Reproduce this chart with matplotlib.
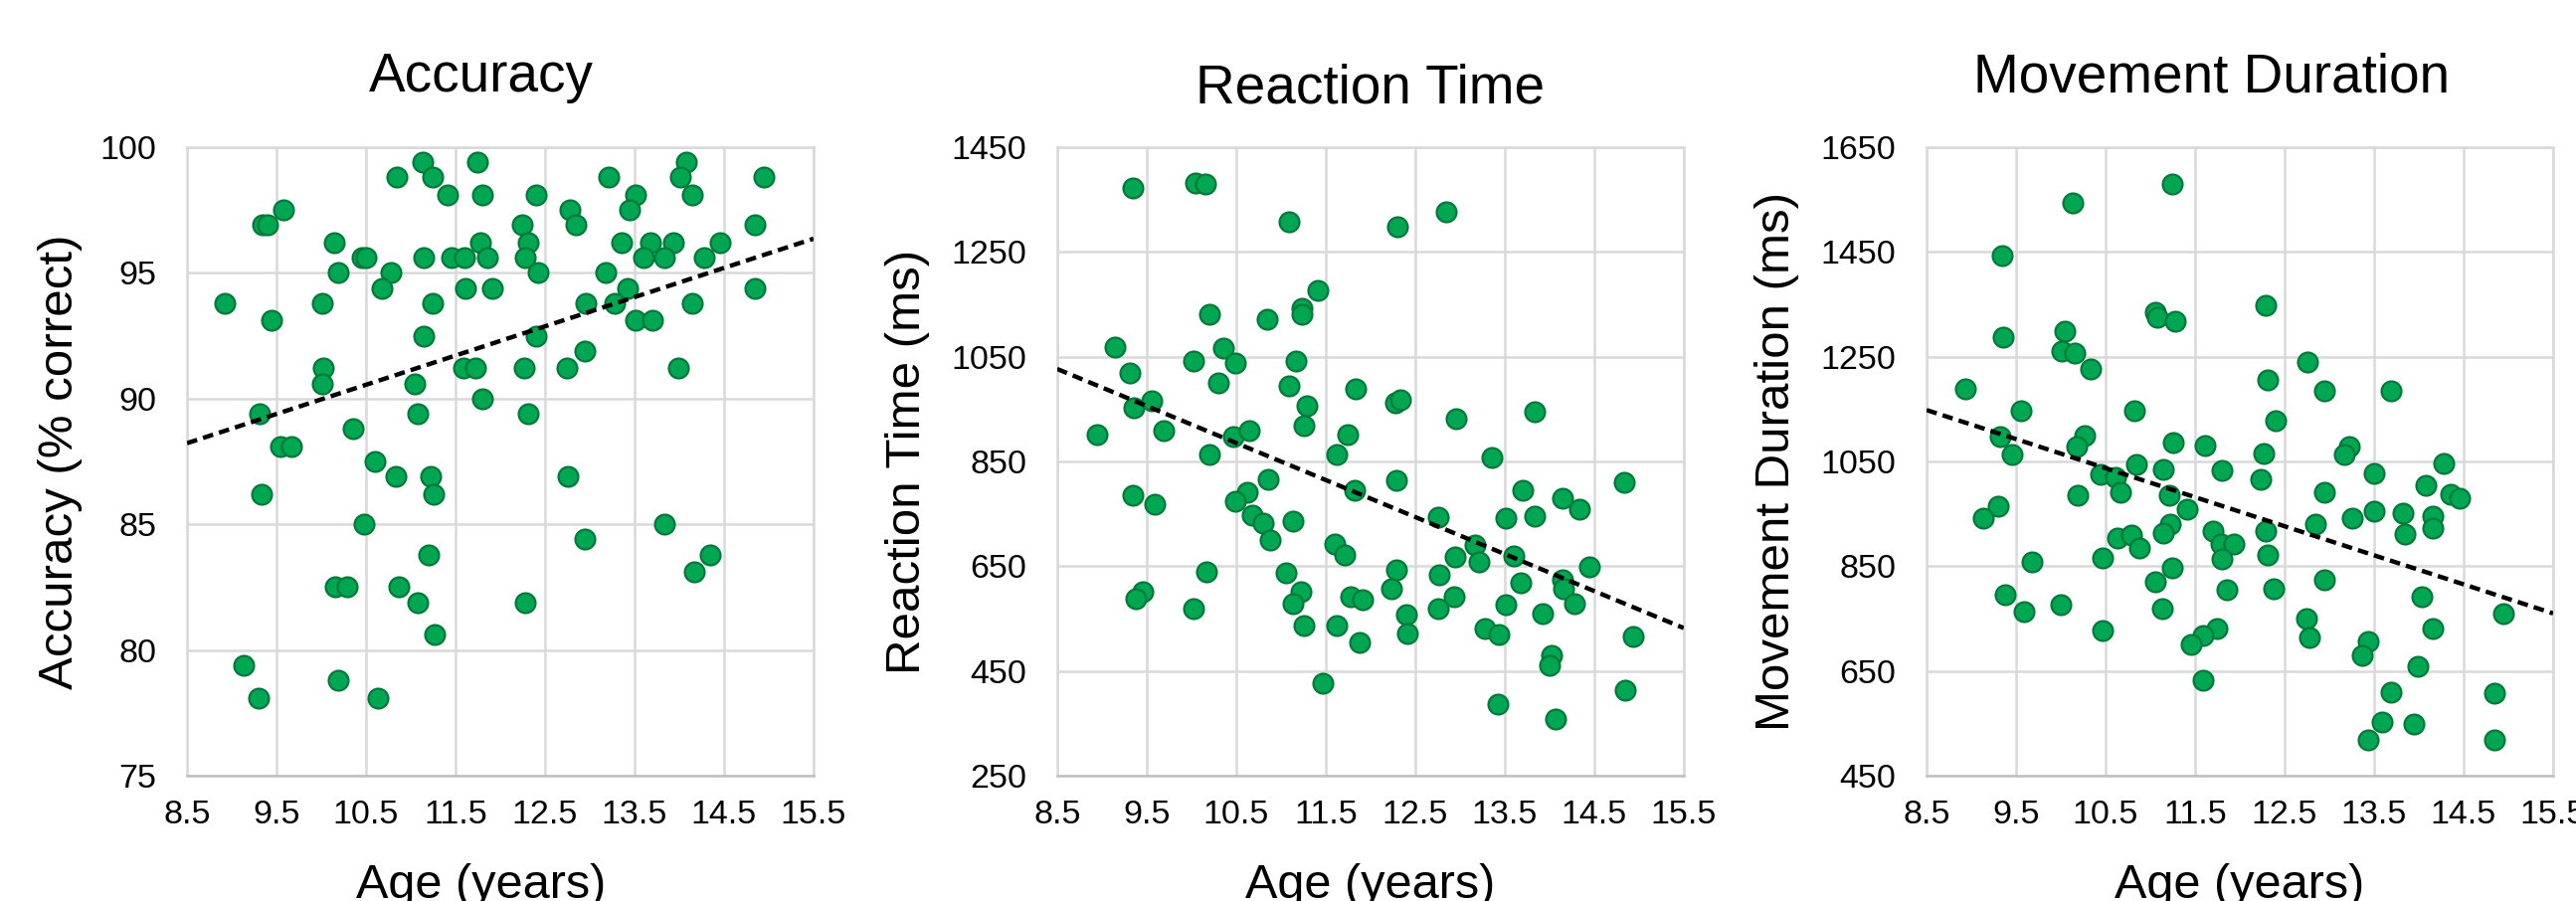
import numpy as np
import matplotlib.pyplot as plt

plt.rcParams['font.family'] = ['Liberation Sans', 'DejaVu Sans']

# ---- data ----
age_acc = [11.13, 11.75, 10.85, 11.24, 11.41, 11.80, 9.58, 9.34, 9.40, 10.14,
           11.78, 10.45, 10.50, 11.15, 11.46, 11.60, 11.86, 10.19, 10.78, 10.68,
           11.61, 11.91, 8.92, 10.01, 11.24, 9.44, 11.15, 10.02, 11.59, 11.72,
           10.01, 11.04, 11.80, 9.31, 11.08, 10.35, 9.54, 9.67, 10.60, 10.83,
           11.22, 9.33, 11.26, 10.48, 11.20, 10.16, 10.29, 10.87, 11.08, 11.27,
           9.13, 10.19, 9.30, 10.63,
           14.08, 14.01, 13.21, 14.95, 12.40, 13.51, 14.15, 12.78, 13.44, 12.85,
           12.25, 14.85, 12.31, 13.36, 13.68, 13.93, 14.46, 12.28, 13.60, 13.83,
           14.28, 12.42, 13.18, 13.42, 14.85, 12.96, 13.28, 14.15, 13.51, 13.70,
           12.40, 12.95, 12.27, 12.74, 13.99, 12.31, 12.76, 12.95, 13.83, 14.34,
           14.17, 12.28]
acc = [99.4, 99.4, 98.8, 98.8, 98.1, 98.1, 97.5, 96.9, 96.9, 96.2,
       96.2, 95.6, 95.6, 95.6, 95.6, 95.6, 95.6, 95.0, 95.0, 94.4,
       94.4, 94.4, 93.8, 93.8, 93.8, 93.1, 92.5, 91.2, 91.2, 91.2,
       90.6, 90.6, 90.0, 89.4, 89.4, 88.8, 88.1, 88.1, 87.5, 86.9,
       86.9, 86.2, 86.2, 85.0, 83.8, 82.5, 82.5, 82.5, 81.9, 80.6,
       79.4, 78.8, 78.1, 78.1,
       99.4, 98.8, 98.8, 98.8, 98.1, 98.1, 98.1, 97.5, 97.5, 96.9,
       96.9, 96.9, 96.2, 96.2, 96.2, 96.2, 96.2, 95.6, 95.6, 95.6,
       95.6, 95.0, 95.0, 94.4, 94.4, 93.8, 93.8, 93.8, 93.1, 93.1,
       92.5, 91.9, 91.2, 91.2, 91.2, 89.4, 86.9, 84.4, 85.0, 83.8,
       83.1, 81.9]

age_rt = [9.34, 10.04, 10.16, 11.09, 11.41, 10.20, 10.85, 11.24, 11.24, 9.14,
          10.36, 10.02, 10.49, 11.17, 9.31, 10.30, 11.09, 11.83, 9.56, 9.36,
          11.29, 11.26, 8.95, 9.69, 10.47, 10.64, 11.75, 10.20, 11.62, 11.82,
          10.86, 9.34, 9.59, 10.62, 10.49, 10.68, 10.80, 10.88, 11.14, 11.60,
          11.71, 10.17, 11.06, 9.46, 9.38, 11.22, 11.14, 10.02, 11.78, 11.91,
          11.26, 11.62, 11.88, 11.47,
          12.30, 12.85, 12.28, 12.33, 12.96, 13.83, 13.36, 12.29, 14.83, 13.70,
          14.15, 14.34, 12.76, 13.51, 13.83, 13.17, 12.95, 13.21, 13.60, 12.29,
          12.77, 14.45, 12.24, 13.68, 14.15, 14.16, 12.94, 12.76, 12.40, 13.51,
          13.92, 14.28, 12.41, 13.28, 13.44, 14.93, 14.02, 14.00, 13.42, 14.85,
          14.07]
rt = [1372, 1381, 1379, 1308, 1176, 1131, 1122, 1142, 1131, 1069,
      1067, 1041, 1037, 1041, 1018, 999, 995, 989, 966, 953,
      957, 919, 902, 909, 898, 909, 902, 864, 864, 795,
      816, 785, 768, 791, 774, 747, 732, 700, 736, 692,
      671, 640, 637, 601, 587, 601, 578, 569, 592, 586,
      536, 536, 504, 427,
      1298, 1327, 962, 968, 931, 944, 858, 813, 810, 794,
      780, 758, 743, 742, 745, 691, 668, 658, 669, 643,
      633, 649, 607, 618, 624, 607, 592, 569, 557, 576,
      559, 578, 521, 531, 519, 515, 479, 460, 386, 414,
      359]

age_md = [11.24, 10.13, 9.34, 11.06, 11.08, 11.28, 9.36, 10.04, 10.01, 10.15,
          10.33, 8.93, 9.55, 10.82, 10.27, 10.18, 9.32, 9.45, 11.26, 11.61,
          10.84, 10.44, 10.61, 11.14, 11.80, 10.67, 11.21, 10.19, 11.41, 9.30,
          9.13, 10.63, 10.79, 10.88, 11.22, 11.14, 11.70, 11.79, 11.93, 11.80,
          9.68, 10.47, 11.24, 11.05, 11.85, 9.38, 9.59, 10.00, 11.13, 10.47,
          11.74, 11.59, 11.46, 11.59,
          12.29, 12.76, 12.31, 12.95, 13.69, 12.40, 13.22, 13.17, 12.27, 14.28,
          12.23, 13.50, 14.08, 12.95, 14.36, 14.46, 13.26, 13.50, 13.82, 14.16,
          14.16, 13.84, 12.85, 12.29, 12.31, 12.95, 12.38, 14.03, 14.94, 12.74,
          12.78, 14.16, 13.43, 13.37, 13.99, 13.69, 14.84, 13.59, 13.94, 13.43,
          14.84]
md = [1579, 1543, 1443, 1334, 1326, 1317, 1287, 1299, 1261, 1256,
      1227, 1189, 1147, 1147, 1099, 1079, 1098, 1064, 1086, 1080,
      1045, 1026, 1019, 1035, 1032, 991, 985, 985, 958, 965,
      942, 904, 909, 885, 930, 914, 917, 892, 892, 864,
      859, 865, 847, 820, 805, 795, 763, 776, 769, 727,
      731, 717, 700, 633,
      1348, 1239, 1206, 1184, 1184, 1127, 1079, 1064, 1065, 1046,
      1016, 1027, 1004, 991, 987, 980, 942, 955, 952, 946,
      923, 911, 930, 917, 871, 824, 807, 792, 759, 750,
      713, 731, 706, 680, 659, 610, 608, 553, 549, 519,
      519]

titles = ['Accuracy', 'Reaction Time', 'Movement Duration']
ylabels = ['Accuracy (% correct)', 'Reaction Time (ms)', 'Movement Duration (ms)']
xticks = [8.5, 9.5, 10.5, 11.5, 12.5, 13.5, 14.5, 15.5]
yticks = [[75, 80, 85, 90, 95, 100],
          [250, 450, 650, 850, 1050, 1250, 1450],
          [450, 650, 850, 1050, 1250, 1450, 1650]]

panels = [(age_acc, acc), (age_rt, rt), (age_md, md)]
lefts = [0.0726, 0.4104, 0.7479]
title_x = [0.47, 0.50, 0.455]
title_pad = [40, 32, 40]
xlabel_x = [0.47, 0.50, 0.50]
ylabel_x = [-0.166, -0.203, -0.204]

fig = plt.figure(figsize=(25.9, 9.06), dpi=100)

for i, (x, y) in enumerate(panels):
    ax = fig.add_axes([lefts[i], 0.1391, 0.2432, 0.6976])
    x = np.array(x)
    y = np.array(y)

    ax.scatter(x, y, s=205, color='#00A651', edgecolors='#007A3A',
               linewidths=1.6, zorder=3)

    # linear trend line over the full axis range
    k, b = np.polyfit(x, y, 1)
    xs = np.array([xticks[0], xticks[-1]])
    ax.plot(xs, k * xs + b, color='black', lw=3.2,
            linestyle=(0, (2.4, 1.4)), zorder=4)

    ax.set_xlim(xticks[0], xticks[-1])
    ax.set_ylim(yticks[i][0], yticks[i][-1])
    ax.set_xticks(xticks)
    ax.set_xticklabels([f'{t:.1f}' for t in xticks])
    ax.set_yticks(yticks[i])
    ax.tick_params(length=0, labelsize=24.5, colors='black')
    ax.tick_params(axis='y', pad=22)
    ax.tick_params(axis='x', pad=17)

    ax.grid(True, color='#D9D9D9', lw=1.8, zorder=0)
    ax.set_axisbelow(True)
    for side in ['top', 'right', 'left']:
        ax.spines[side].set_color('#D9D9D9')
        ax.spines[side].set_linewidth(1.8)
    ax.spines['bottom'].set_color('#BFBFBF')
    ax.spines['bottom'].set_linewidth(1.8)

    ax.set_title(titles[i], fontsize=39.5, x=title_x[i], pad=title_pad[i])
    ax.set_ylabel(ylabels[i], fontsize=35.5)
    ax.yaxis.set_label_coords(ylabel_x[i], 0.5)
    ax.set_xlabel('Age (years)', fontsize=35)
    ax.xaxis.set_label_coords(xlabel_x[i], -0.139)

fig.savefig('out.png', dpi=100)
